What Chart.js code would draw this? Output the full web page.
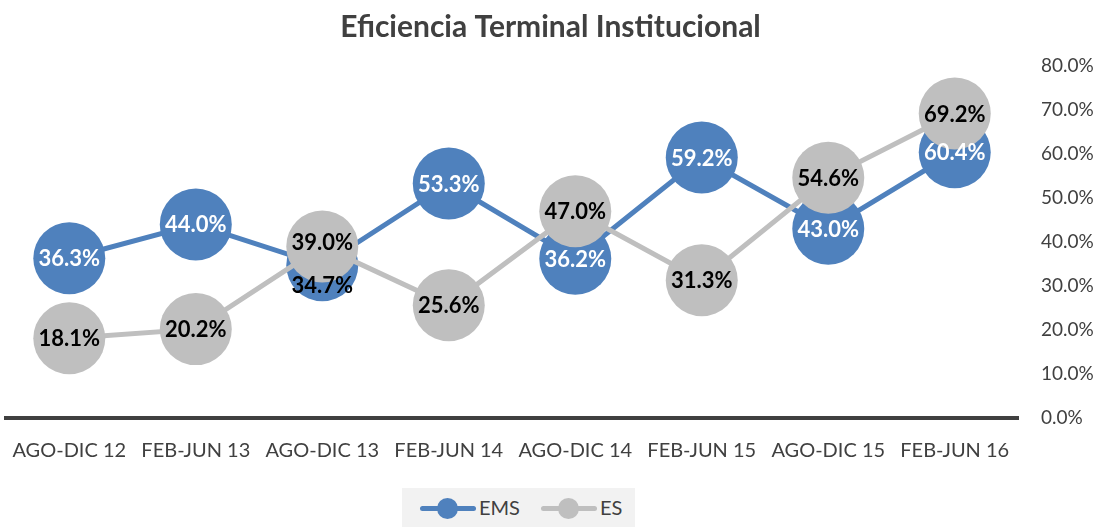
<!DOCTYPE html>
<html>
<head>
<meta charset="utf-8">
<script src="https://cdn.jsdelivr.net/npm/chart.js@4"></script>
<style>
  body { margin: 0; background: #fff; overflow: hidden; }
  #wrap { position: relative; width: 1103px; height: 527px; overflow: hidden; }
  #myChart { position: absolute; left: -9px; top: 0; }
  #legend {
    position: absolute; left: 402px; top: 488px; width: 233px; height: 39px;
    background: #f2f2f2; font-family: Lato, sans-serif; font-size: 20px; color: #404040;
  }
  .item { position: absolute; top: 0; height: 39px; }
  .seg { position: absolute; top: 18px; height: 5px; border-radius: 3px; }
  .dot { position: absolute; top: 10px; width: 21px; height: 21px; border-radius: 50%; }
  .txt { position: absolute; top: 7px; }
</style>
</head>
<body>
<div id="wrap">
  <canvas id="myChart" width="1112" height="527"></canvas>
  <div id="legend"></div>
</div>
<script>
const labels = ["AGO-DIC 12", "FEB-JUN 13", "AGO-DIC 13", "FEB-JUN 14", "AGO-DIC 14", "FEB-JUN 15", "AGO-DIC 15", "FEB-JUN 16"];
const emsValues = [36.3, 44.0, 34.7, 53.3, 36.2, 59.2, 43.0, 60.4];
const esValues = [18.1, 20.2, 39.0, 25.6, 47.0, 31.3, 54.6, 69.2];
const yTicks = [0, 10, 20, 30, 40, 50, 60, 70, 80];

const blue = "#4f81bd";
const gray = "#bfbfbf";
const font = "Lato, sans-serif";

// label colours per point (the 34.7% one sits under the gray bubble, shown black)
const emsLabelColors = ["#fff", "#fff", "#000", "#fff", "#fff", "#fff", "#fff", "#fff"];
const esLabelColors = esValues.map(() => "#000");
// the two overlapping labels at AGO-DIC 13 were nudged apart in the original
const emsLabelShift = [0, 0, 20, 0, 0, 0, 0, 0];
const esLabelShift = [0, 0, -4, 0, 0, 0, 0, 0];

const valueLabels = {
    id: "valueLabels",
    afterDatasetsDraw: (chart) => {
        const { ctx } = chart;
        ctx.save();
        ctx.font = "bold 22px " + font;
        ctx.textAlign = "center";
        ctx.textBaseline = "middle";
        chart.data.datasets.forEach((ds, i) => {
            const meta = chart.getDatasetMeta(i);
            meta.data.forEach((pt, j) => {
                ctx.fillStyle = ds.labelColors[j];
                ctx.fillText(ds.data[j].toFixed(1) + "%", pt.x, pt.y + 1 + ds.labelShift[j]);
            });
        });
        ctx.restore();
    },
};

new Chart(document.querySelector("#myChart"), {
    type: "line",
    data: {
        labels: labels,
        datasets: [
            {
                label: "EMS",
                data: emsValues,
                borderColor: blue,
                backgroundColor: blue,
                borderWidth: 5,
                pointRadius: 36,
                pointHoverRadius: 36,
                pointBorderWidth: 0,
                order: 1,
                labelColors: emsLabelColors,
                labelShift: emsLabelShift,
            },
            {
                label: "ES",
                data: esValues,
                borderColor: gray,
                backgroundColor: gray,
                borderWidth: 5,
                pointRadius: 36,
                pointHoverRadius: 36,
                pointBorderWidth: 0,
                order: 0,
                labelColors: esLabelColors,
                labelShift: esLabelShift,
            },
        ],
    },
    options: {
        responsive: false,
        animation: false,
        layout: { autoPadding: false, padding: { left: 7, right: 0, top: 0, bottom: 0 } },
        plugins: {
            legend: { display: false },
            tooltip: { enabled: false },
            title: {
                display: true,
                text: "Eficiencia Terminal Institucional",
                color: "#404040",
                font: { family: font, size: 30, weight: "bold" },
                padding: { top: 9, bottom: 21 },
            },
        },
        scales: {
            x: {
                offset: true,
                grid: { display: false, drawTicks: false },
                border: { display: true, color: "#404040", width: 4 },
                ticks: {
                    color: "#404040",
                    font: { family: font, size: 20 },
                    padding: 21,
                    maxRotation: 0,
                    autoSkip: false,
                },
                afterFit: (axis) => { axis.height = 109; },
            },
            y: {
                position: "right",
                min: 0,
                max: 80,
                grid: { display: false, drawTicks: false },
                border: { display: false },
                afterBuildTicks: (axis) => { axis.ticks = yTicks.map((v) => ({ value: v })); },
                ticks: {
                    color: "#404040",
                    font: { family: font, size: 19 },
                    padding: 23,
                    callback: (v) => v.toFixed(1) + "%",
                },
                afterFit: (axis) => { axis.width = 85; },
            },
        },
    },
    plugins: [valueLabels],
});

// legend: line with a dot, like the spreadsheet one
const legendItems = [
    { name: "EMS", color: blue, x: 18 },
    { name: "ES", color: gray, x: 139 },
];
const legend = document.querySelector("#legend");
legendItems.forEach((it) => {
    const el = document.createElement("div");
    el.className = "item";
    el.style.left = it.x + "px";
    el.innerHTML =
        '<div class="seg" style="left:0;width:56px;background:' + it.color + '"></div>' +
        '<div class="dot" style="left:17px;background:' + it.color + '"></div>' +
        '<div class="txt" style="left:59px">' + it.name + "</div>";
    legend.appendChild(el);
});
</script>
</body>
</html>
